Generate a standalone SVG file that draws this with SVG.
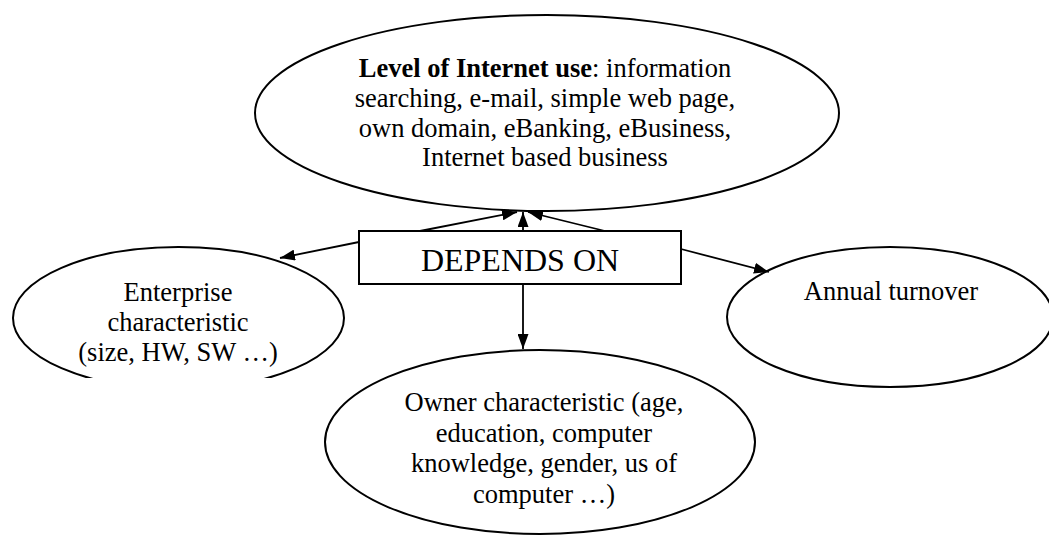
<svg xmlns="http://www.w3.org/2000/svg" width="1049" height="539" viewBox="0 0 1049 539">
<style>
.node{fill:#fff;stroke:#000;stroke-width:2}
.t{font-family:"Liberation Serif","Times New Roman",serif;font-size:26.5px;fill:#000;text-anchor:middle}
.big{font-size:32px}
.con{stroke:#000;stroke-width:1.8;fill:none;marker-end:url(#ah)}
</style>
<defs>
<marker id="ah" markerUnits="userSpaceOnUse" markerWidth="15" markerHeight="11" refX="15" refY="5.5" orient="auto">
<path d="M0,0 L15,5.5 L0,11 z" fill="#000"/>
</marker>
<clipPath id="clipE"><rect x="0" y="0" width="1049" height="378"/></clipPath>
<clipPath id="clipT"><rect x="0" y="0" width="1049" height="369"/></clipPath>
</defs>
<rect width="1049" height="539" fill="#fff"/>
<g id="level">
<ellipse class="node" cx="547" cy="113" rx="292" ry="98"/>
<text class="t" x="545" y="77"><tspan font-weight="bold">Level of Internet use</tspan>: information</text>
<text class="t" x="545" y="107">searching, e-mail, simple web page,</text>
<text class="t" x="545" y="137">own domain, eBanking, eBusiness,</text>
<text class="t" x="545" y="166">Internet based business</text>
</g>
<g id="enterprise">
<ellipse class="node" cx="178.5" cy="318" rx="165.5" ry="71" clip-path="url(#clipE)"/>
<g clip-path="url(#clipT)">
<text class="t" x="178" y="301">Enterprise</text>
<text class="t" x="178" y="331">characteristic</text>
<text class="t" x="178" y="361">(size, HW, SW …)</text>
</g>
</g>
<g id="turnover">
<ellipse class="node" cx="890" cy="317" rx="163" ry="70"/>
<text class="t" x="891" y="300">Annual turnover</text>
</g>
<g id="owner">
<ellipse class="node" cx="540" cy="442" rx="215" ry="92"/>
<text class="t" x="544" y="411">Owner characteristic (age,</text>
<text class="t" x="544" y="441.5">education, computer</text>
<text class="t" x="544" y="472">knowledge, gender, us of</text>
<text class="t" x="544" y="502.5">computer …)</text>
</g>
<g id="depends">
<rect class="node" x="359" y="231" width="322" height="53"/>
<text class="t big" x="520" y="271">DEPENDS ON</text>
</g>
<g id="connectors">
<line class="con" x1="420" y1="231" x2="517" y2="212"/>
<line class="con" x1="523" y1="231" x2="523" y2="212"/>
<line class="con" x1="605" y1="231" x2="528" y2="212"/>
<line class="con" x1="359" y1="242" x2="280" y2="258"/>
<line class="con" x1="681" y1="249" x2="769" y2="272"/>
<line class="con" x1="523" y1="284" x2="523" y2="349"/>
</g>
</svg>
